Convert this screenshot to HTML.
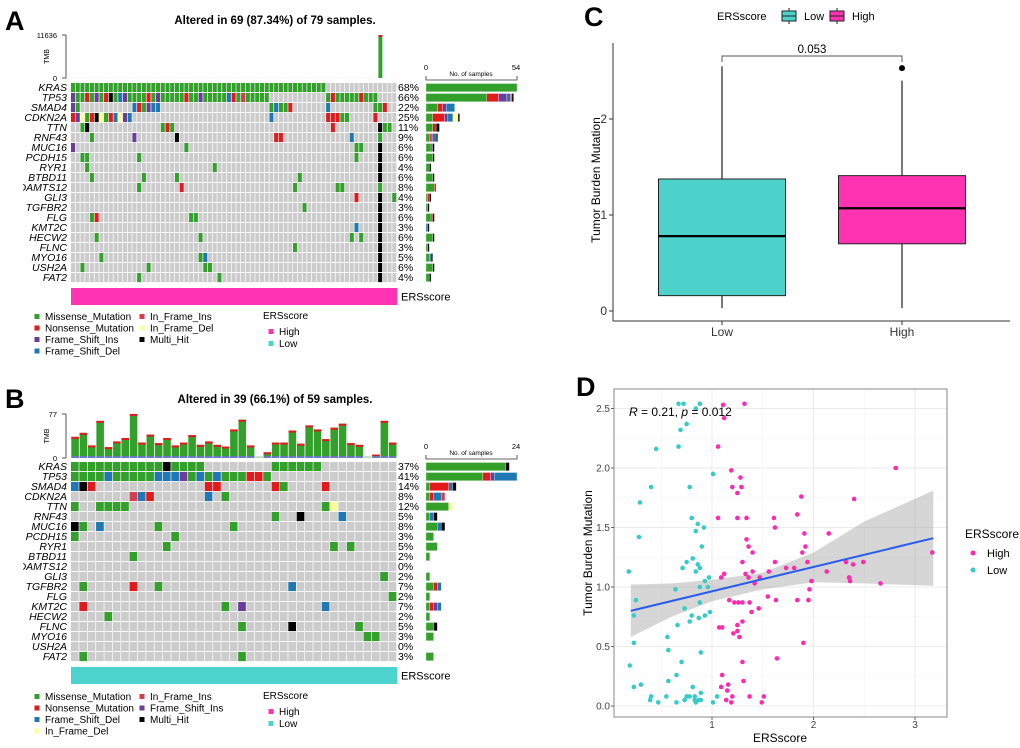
<!DOCTYPE html>
<html><head><meta charset="utf-8"><style>
html,body{margin:0;padding:0;background:#fff;}
svg{display:block;font-family:"Liberation Sans",Arial,sans-serif;}
</style></head><body>
<svg id="fig" width="1020" height="748" viewBox="0 0 1020 748" xmlns="http://www.w3.org/2000/svg">
<defs><clipPath id="lblclip"><rect x="23" y="0" width="60" height="748"/></clipPath></defs>
<g id="pA"></g>
<g id="pB"></g>
<g id="pC"></g>
<g id="pD"></g>
</svg>
<script>
const NS='http://www.w3.org/2000/svg';
const genes=["KRAS","TP53","SMAD4","CDKN2A","TTN","RNF43","MUC16","PCDH15","RYR1","BTBD11","ADAMTS12","GLI3","TGFBR2","FLG","KMT2C","HECW2","FLNC","MYO16","USH2A","FAT2"];
const typeColors={M:'#33A02C',N:'#E31A1C',I:'#6A3D9A',D:'#1F78B4',F:'#D53E4F',E:'#FFFF99',H:'#000000'};
const typeOrder=['M','N','I','D','F','E','H'];
const mutsA=[["0-53M"],
["0I","1-2M","3N","4M","5I","6M","7N","8H","9M","10D","11I","12-15M","16N","17M","18I","19-23M","24N","25-26M","27I","28-32M","33D","34N","35M","36F","37-41M","54M","55N","56-60M","61N","62-64M"],
["0I","1M","13D","14N","15M","16I","17-18D","42M","43D","44-45M","46N","54D","64-65M","66N"],
["0N","1I","2E","3M","4N","5H","6E","7M","8N","9D","10E","11I","12D","42D","54-56N","57-58M","64N"],
["2M","3H","19M","20N","21M","55N","65H","66-67M"],
["4M","13I","22H","43-44N","59D","65M"],
["0I","24M","60-61M","65H"],
["2-3M","14M","60M","65H"],
["3M","30M","65H"],
["4M","15M","22M","48M","65H"],
["14M","23N","47M","56-57M","65M"],
["60N","65H","68M"],
["49M","65H"],
["4M","5N","25-26M","65H"],
["60D","65H"],
["5M","27M","59M","61M","65H"],
["47M","65H"],
["6M","27M","28D","65H"],
["2M","16M","28-29M","65H"],
["14M","31M","65H"]];
const pctA=["68%","66%","22%","25%","11%","9%","6%","6%","4%","6%","8%","4%","3%","6%","3%","6%","3%","5%","6%","4%"];
const countsA=[[54,0,0,0,0,0,0],[36,7,5,2,1,0,1],[7,3,2,5,0,0,0],[4,7,2,3,0,3,1],[4,2,0,0,0,0,2],[2,1,1,2,0,0,1],[3,0,1,0,0,0,1],[4,0,0,0,0,0,1],[2,0,0,0,0,0,1],[4,0,0,0,0,0,1],[5,1,0,0,0,0,0],[1,1,0,0,0,0,1],[1,0,0,0,0,0,1],[3,1,0,0,0,0,1],[0,0,0,1,0,0,1],[4,0,0,0,0,0,1],[1,0,0,0,0,0,1],[2,0,0,1,0,0,1],[4,0,0,0,0,0,1],[2,0,0,0,0,0,1]];
const tmbA=[40,35,50,45,38,42,30,44,36,40,38,33,41,39,37,45,40,36,38,42,35,40,37,39,41,36,38,40,35,42,39,37,41,36,40,38,35,39,42,37,40,36,38,41,35,39,37,40,36,38,42,35,40,37,39,41,36,38,40,35,42,39,37,41,36,11636,38,35,39];
const mutsB=[["0-10M","11H","12-15M","24-29M"],
["0-3M","4D","5-9M","10-12D","13I","14M","15D","16M","17D","18-20M","21-22N","23M"],
["0D","1H","2N","16-17N","24N","25M","30N"],
["7F","8D","9N","16D","18M"],
["0M","3-6M","30M","31E"],
["24M","27H","32D"],
["0H","1M","3D","10M","19M"],
["0M","12M"],
["11M","31M","33M"],
["7M"],
[],
["37M"],
["1M","7N","10M","26D"],
["38M"],
["1N","18M","20I","30D"],
["4M"],
["20M","26H","34M"],
["35-36M"],
[],
["1M","20M"]];
const pctB=["37%","41%","14%","8%","12%","5%","8%","3%","5%","2%","0%","2%","7%","2%","7%","2%","5%","3%","0%","3%"];
const countsB=[[21,0,0,0,0,0,1],[15,2,1,6,0,0,0],[1,5,0,1,0,0,1],[1,1,0,2,1,0,0],[6,0,0,0,0,1,0],[1,0,0,1,0,0,1],[3,0,0,1,0,0,1],[2,0,0,0,0,0,0],[3,0,0,0,0,0,0],[1,0,0,0,0,0,0],[0,0,0,0,0,0,0],[1,0,0,0,0,0,0],[2,1,0,1,0,0,0],[1,0,0,0,0,0,0],[1,1,1,1,0,0,0],[1,0,0,0,0,0,0],[2,0,0,0,0,0,1],[2,0,0,0,0,0,0],[0,0,0,0,0,0,0],[2,0,0,0,0,0,0]];
const tmbB=[37,44,22,65,19,29,35,77,27,41,26,35,22,27,40,23,29,23,20,50,67,22,3,10,27,27,48,25,57,50,33,53,60,26,23,3,6,65,27];
const boxGroups=["Low","High"];
const boxStats=[[0.03,0.16,0.78,1.375,2.55],[0.03,0.70,1.07,1.41,2.40]];
const boxOutliers=[[],[2.53]];
const cTicks=[0,1,2];
const lowX=[0.67,0.72,0.88,0.84,0.75,0.69,0.67,0.45,0.40,0.78,1.01,0.29,0.28,0.80,0.86,0.92,0.84,0.90,0.18,0.71,0.75,0.81,0.86,0.88,0.84,0.93,0.97,0.96,0.88,0.64,0.25,0.88,0.73,0.23,0.80,0.87,0.93,0.98,0.66,0.78,0.56,0.57,0.23,0.89,0.19,0.70,0.65,0.57,0.30,0.23,0.81,0.40,0.39,0.47,0.55,0.65,0.73,0.75,0.78,0.83,0.83,0.84,0.87,0.89,0.89,1.01,1.05];
const lowY=[2.54,2.54,2.54,2.50,2.37,2.32,2.18,2.16,1.84,1.84,1.95,1.71,1.42,1.58,1.53,1.50,1.47,1.34,1.13,1.16,1.21,1.24,1.19,1.16,1.13,1.05,1.08,1.00,1.00,0.98,0.89,0.87,0.82,0.76,0.76,0.74,0.76,0.79,0.68,0.71,0.58,0.47,0.53,0.45,0.34,0.37,0.26,0.21,0.18,0.16,0.16,0.08,0.05,0.03,0.08,0.03,0.05,0.08,0.08,0.08,0.05,0.03,0.05,0.11,0.05,0.03,0.08];
const highX=[1.11,1.32,1.12,1.06,1.19,1.28,1.20,1.29,1.25,1.06,1.25,1.34,1.61,1.84,1.62,1.88,2.40,2.81,1.91,2.15,1.34,1.36,1.92,1.40,1.89,3.17,1.30,1.62,1.94,2.32,2.49,1.12,1.09,1.33,1.40,1.36,1.47,1.56,1.73,1.81,2.13,2.39,2.35,2.36,1.42,1.98,2.66,1.96,1.17,1.22,1.26,1.30,1.37,1.55,1.63,1.84,1.95,1.39,1.46,1.30,1.25,1.07,1.10,1.25,1.21,1.27,1.90,1.30,1.64,1.10,1.31,1.16,1.15,1.09,1.14,1.20,1.19,1.37,1.51,1.49];
const highY=[2.53,2.54,2.42,2.18,1.98,1.92,1.84,1.84,1.79,1.58,1.58,1.58,1.58,1.61,1.50,1.76,1.74,2.00,1.45,1.45,1.40,1.34,1.34,1.29,1.29,1.29,1.21,1.21,1.21,1.21,1.21,1.11,1.08,1.11,1.13,1.08,1.08,1.13,1.16,1.16,1.13,1.19,1.08,1.05,1.03,1.05,1.03,0.98,0.89,0.87,0.87,0.87,0.87,0.92,0.89,0.89,0.89,0.79,0.82,0.71,0.68,0.66,0.66,0.63,0.61,0.58,0.53,0.37,0.40,0.26,0.21,0.18,0.13,0.16,0.05,0.08,0.03,0.08,0.08,0.03];
const ciX=[0.2,0.6,1.0,1.5,2.0,2.5,3.18];
const ciLo=[0.58,0.75,0.88,0.98,1.04,1.03,1.01];
const ciHi=[1.02,1.03,1.06,1.12,1.29,1.55,1.81];
const fitX=[0.2,3.18];
const fitY=[0.80,1.41];
const dXTicks=[1,2,3];
const dYTicks=[0,0.5,1,1.5,2,2.5];

function el(parent,tag,attrs,text){const e=document.createElementNS(NS,tag);for(const k in attrs)e.setAttribute(k,attrs[k]);if(text!==undefined)e.textContent=text;parent.appendChild(e);return e;}

function oncoplot(g,cfg){
  const x0=71,x1=397,W=x1-x0,cw=W/cfg.n,rowH=10;
  const t=el(g,'text',{x:5,y:cfg.letterY,'font-size':27,'font-weight':'bold'},cfg.letter);
  
  
  const ti=el(g,'text',{x:275,y:cfg.titleY,'font-size':11.5,'font-weight':'bold','text-anchor':'middle'},cfg.title);
  
  
  const tg=el(g,'g',{});
  
  
  const ty=v=>cfg.tmbBase-(cfg.tmbBase-cfg.tmbTop)*v/cfg.tmbMax;
  el(tg,'line',{x1:66,x2:66,y1:cfg.tmbTop,y2:cfg.tmbBase,stroke:'#555','stroke-width':1});
  el(tg,'line',{x1:62,x2:66,y1:cfg.tmbTop,y2:cfg.tmbTop,stroke:'#555'});
  el(tg,'line',{x1:62,x2:66,y1:cfg.tmbBase,y2:cfg.tmbBase,stroke:'#555'});
  el(tg,'text',{x:57,y:cfg.tmbTop+3,'font-size':7.5,'text-anchor':'end'},String(cfg.tmbMax));
  el(tg,'text',{x:57,y:cfg.tmbBase+3,'font-size':7.5,'text-anchor':'end'},'0');
  const my=(cfg.tmbTop+cfg.tmbBase)/2;
  el(tg,'text',{x:49,y:my,'font-size':7,'text-anchor':'middle',transform:`rotate(-90 49 ${my})`},'TMB');
  cfg.tmb.forEach((v,i)=>{
    const yy=ty(v),bx=x0+i*cw+0.3,bw=cw-0.8;
    const r=el(tg,'rect',{x:bx,y:yy,width:bw,height:cfg.tmbBase-yy,fill:v>cfg.tmbMax*0.05?'#33A02C':'#b8dcb0'});
    
    
    if(v>cfg.tmbMax*0.05){
      el(tg,'rect',{x:bx,y:yy,width:bw,height:Math.min(2,cfg.tmbBase-yy),fill:'#E31A1C'});
      if(cfg.n<60) el(tg,'rect',{x:bx,y:cfg.tmbBase-2,width:bw,height:2,fill:'#6A7AC0'});
    }
  });
  const grid=el(g,'g',{});
  
  
  genes.forEach((gn,r)=>{
    const ry=cfg.rowY+r*rowH;
    for(let c=0;c<cfg.n;c++) el(grid,'rect',{x:x0+c*cw,y:ry,width:cw-0.7,height:rowH-0.9,fill:'#CCCCCC'});
    cfg.muts[r].forEach(s=>{
      const tp=s.slice(-1),rg=s.slice(0,-1).split('-').map(Number);
      const a=rg[0],b=rg.length>1?rg[1]:rg[0];
      for(let c=a;c<=b;c++){
        const m=el(grid,'rect',{x:x0+c*cw,y:ry,width:cw-0.7,height:rowH-0.9,fill:typeColors[tp]});
        
        
      }
    });
    const lb=el(g,'text',{x:67,y:ry+8,'font-size':10.5,'font-style':'italic','text-anchor':'end','clip-path':'url(#lblclip)'},gn);
    
    
    const pc=el(g,'text',{x:398,y:ry+8,'font-size':10.5},cfg.pct[r]);
    
    
    let cx=426;const sc=91/cfg.cmax;
    cfg.counts[r].forEach((v,k)=>{ if(v>0){
      const rb=el(g,'rect',{x:cx,y:ry+0.5,width:v*sc,height:rowH-1.8,fill:typeColors[typeOrder[k]],stroke:'#fff','stroke-width':0.3});
      
      
      cx+=v*sc;}});
  });
  const ra=el(g,'g',{});
  
  
  el(ra,'path',{d:`M426 ${cfg.axY-4} V${cfg.axY} H517 V${cfg.axY-4}`,fill:'none',stroke:'#333','stroke-width':0.8});
  el(ra,'text',{x:426,y:cfg.axY-10,'font-size':7.5,'text-anchor':'middle'},'0');
  el(ra,'text',{x:516,y:cfg.axY-10,'font-size':7.5,'text-anchor':'middle'},String(cfg.cmax));
  el(ra,'text',{x:471,y:cfg.axY-4,'font-size':6.5,'text-anchor':'middle'},'No. of samples');
  const an=el(g,'rect',{x:x0,y:cfg.annY,width:W,height:17,fill:cfg.annColor});
  
  
  el(g,'text',{x:401,y:cfg.annY+12.5,'font-size':11},'ERSscore');
  const lg=el(g,'g',{'font-size':10});
  
  
  cfg.legend.forEach((col,ci)=>col.forEach((it,ri)=>{
    const lx=ci?142:37,ly=cfg.legY+ri*11.5;
    el(lg,'rect',{x:lx-2.5,y:ly-6,width:5,height:5,fill:typeColors[it[0]]});
    const lt=el(lg,'text',{x:lx+8,y:ly},it[1]);
    
    
  }));
  el(lg,'text',{x:263,y:cfg.legY-1},'ERSscore');
  el(lg,'rect',{x:268.5,y:cfg.legY+9,width:5,height:5,fill:'#FF33B4'});
  el(lg,'text',{x:279,y:cfg.legY+15},'High');
  el(lg,'rect',{x:268.5,y:cfg.legY+21,width:5,height:5,fill:'#4DD3CD'});
  el(lg,'text',{x:279,y:cfg.legY+27},'Low');
}

oncoplot(document.getElementById('pA'),{letter:'A',letterY:30,title:'Altered in 69 (87.34%) of 79 samples.',titleY:24,n:69,
  tmb:tmbA,tmbMax:11636,tmbTop:35,tmbBase:78,rowY:83,muts:mutsA,pct:pctA,counts:countsA,cmax:54,axY:80,annY:288,annColor:'#FF33B4',legY:320,
  legend:[[['M','Missense_Mutation'],['N','Nonsense_Mutation'],['I','Frame_Shift_Ins'],['D','Frame_Shift_Del']],[['F','In_Frame_Ins'],['E','In_Frame_Del'],['H','Multi_Hit']]]});
oncoplot(document.getElementById('pB'),{letter:'B',letterY:408,title:'Altered in 39 (66.1%) of 59 samples.',titleY:403,n:39,
  tmb:tmbB,tmbMax:77,tmbTop:414,tmbBase:458,rowY:462,muts:mutsB,pct:pctB,counts:countsB,cmax:24,axY:459,annY:667,annColor:'#4DD3CD',legY:700,
  legend:[[['M','Missense_Mutation'],['N','Nonsense_Mutation'],['D','Frame_Shift_Del'],['E','In_Frame_Del']],[['F','In_Frame_Ins'],['I','Frame_Shift_Ins'],['H','Multi_Hit']]]});

(function(){
  const g=document.getElementById('pC');
  const yS=v=>311-96*v, xC=[722,902], hw=63.5, fills=['#4DD1CB','#FF33B1'];
  el(g,'text',{x:584,y:26,'font-size':27,'font-weight':'bold'},'C');
  const lg=el(g,'g',{'font-size':11});
  
  
  el(lg,'text',{x:717,y:20},'ERSscore');
  [[782,'#4DD1CB','Low',804],[830,'#FF33B1','High',852]].forEach(k=>{
    el(lg,'line',{x1:k[0]+7,x2:k[0]+7,y1:8,y2:24,stroke:'#222'});
    el(lg,'rect',{x:k[0],y:11,width:14,height:10,fill:k[1],stroke:'#222'});
    el(lg,'line',{x1:k[0],x2:k[0]+14,y1:16,y2:16,stroke:'#222'});
    el(lg,'text',{x:k[3],y:20},k[2]);
  });
  el(g,'line',{x1:613,x2:613,y1:43,y2:321,stroke:'#333'});
  el(g,'line',{x1:613,x2:1010,y1:321,y2:321,stroke:'#333'});
  cTicks.forEach(v=>{el(g,'line',{x1:609,x2:613,y1:yS(v),y2:yS(v),stroke:'#333'});
    el(g,'text',{x:607,y:yS(v)+4,'font-size':12,'text-anchor':'end','fill':'#333'},String(v));});
  el(g,'text',{x:600,y:180,'font-size':12,'text-anchor':'middle',transform:'rotate(-90 600 180)'},'Tumor Burden Mutation');
  boxGroups.forEach((gr,i)=>{
    const s=boxStats[i],x=xC[i];
    const bg=el(g,'g',{});
    
    
    el(bg,'line',{x1:x,x2:x,y1:yS(s[0]),y2:yS(s[4]),stroke:'#222','stroke-width':1.2});
    el(bg,'rect',{x:x-hw,y:yS(s[3]),width:2*hw,height:yS(s[1])-yS(s[3]),fill:fills[i],stroke:'#222','stroke-width':1});
    el(bg,'line',{x1:x-hw,x2:x+hw,y1:yS(s[2]),y2:yS(s[2]),stroke:'#000','stroke-width':2.2});
    boxOutliers[i].forEach(o=>el(bg,'circle',{cx:x,cy:yS(o),r:3,fill:'#000'}));
    el(g,'line',{x1:x,x2:x,y1:321,y2:325,stroke:'#333'});
    el(g,'text',{x:x,y:336,'font-size':12,'text-anchor':'middle',fill:'#333'},gr);
  });
  el(g,'path',{d:'M722 62 V56 H902 V62',fill:'none',stroke:'#555'});
  el(g,'text',{x:812,y:53,'font-size':11.5,'text-anchor':'middle'},'0.053');
})();

(function(){
  const g=document.getElementById('pD');
  const xS=v=>610.5+101.5*v, yS=v=>706-119*v;
  const L=614,R=947,T=389,B=717;
  el(g,'text',{x:576,y:396,'font-size':27,'font-weight':'bold'},'D');
  el(g,'rect',{x:L,y:T,width:R-L,height:B-T,fill:'#fff'});
  [0.5,1.5,2.5].forEach(v=>el(g,'line',{x1:xS(v),x2:xS(v),y1:T,y2:B,stroke:'#F3F3F3','stroke-width':0.6}));
  [0.25,0.75,1.25,1.75,2.25].forEach(v=>el(g,'line',{x1:L,x2:R,y1:yS(v),y2:yS(v),stroke:'#F3F3F3','stroke-width':0.6}));
  dXTicks.forEach(v=>el(g,'line',{x1:xS(v),x2:xS(v),y1:T,y2:B,stroke:'#EBEBEB','stroke-width':1}));
  dYTicks.forEach(v=>el(g,'line',{x1:L,x2:R,y1:yS(v),y2:yS(v),stroke:'#EBEBEB','stroke-width':1}));
  let d='M'+ciX.map((x,i)=>xS(x)+' '+yS(ciHi[i])).join(' L');
  d+=' L'+ciX.slice().reverse().map((x,i)=>xS(x)+' '+yS(ciLo[ciX.length-1-i])).join(' L')+' Z';
  const band=el(g,'path',{d:d,fill:'#999','fill-opacity':0.4});
  
  
  lowX.forEach((x,i)=>{const c=el(g,'circle',{cx:xS(x),cy:yS(lowY[i]),r:2.3,fill:'#36CBC6'});
    
    });
  highX.forEach((x,i)=>{const c=el(g,'circle',{cx:xS(x),cy:yS(highY[i]),r:2.3,fill:'#FF2AAE'});
    
    });
  const fl=el(g,'line',{x1:xS(fitX[0]),y1:yS(fitY[0]),x2:xS(fitX[1]),y2:yS(fitY[1]),stroke:'#2A5CF0','stroke-width':2});
  
  
  el(g,'rect',{x:L,y:T,width:R-L,height:B-T,fill:'none',stroke:'#888','stroke-width':1});
  dXTicks.forEach(v=>{el(g,'line',{x1:xS(v),x2:xS(v),y1:B,y2:B+3,stroke:'#666'});
    el(g,'text',{x:xS(v),y:B+11,'font-size':10,'text-anchor':'middle',fill:'#444'},String(v));});
  dYTicks.forEach(v=>{el(g,'line',{x1:L-3,x2:L,y1:yS(v),y2:yS(v),stroke:'#666'});
    el(g,'text',{x:L-4,y:yS(v)+3.5,'font-size':10,'text-anchor':'end',fill:'#444'},v.toFixed(1));});
  el(g,'text',{x:780,y:742,'font-size':12,'text-anchor':'middle'},'ERSscore');
  el(g,'text',{x:592,y:553,'font-size':12,'text-anchor':'middle',transform:'rotate(-90 592 553)'},'Tumor Burden Mutation');
  const st=el(g,'text',{x:629,y:416,'font-size':12});
  st.innerHTML='<tspan font-style="italic">R</tspan> = 0.21, <tspan font-style="italic">p</tspan> = 0.012';
  const lg=el(g,'g',{'font-size':12});
  
  
  el(lg,'text',{x:965,y:538},'ERSscore');
  el(lg,'circle',{cx:973,cy:553,r:2.5,fill:'#FF2AAE'});
  el(lg,'text',{x:987,y:557,'font-size':11},'High');
  el(lg,'circle',{cx:973,cy:570,r:2.5,fill:'#36CBC6'});
  el(lg,'text',{x:987,y:574,'font-size':11},'Low');
})();
</script>
</body></html>
